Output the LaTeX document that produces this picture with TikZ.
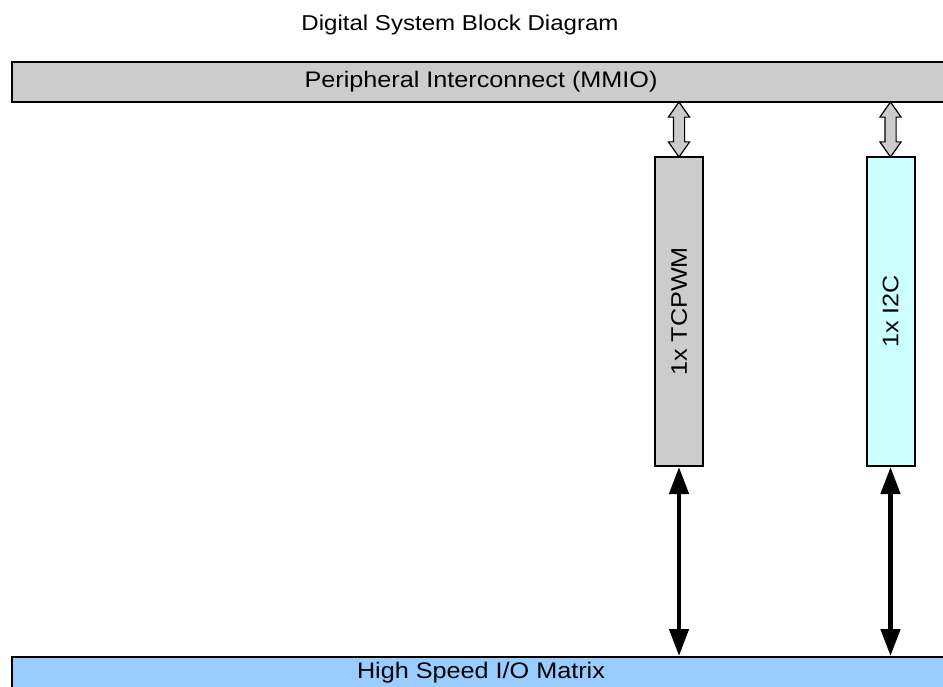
\documentclass[tikz,border=0pt]{standalone}
\usepackage{fontspec}
\setmainfont[FakeStretch=1.12]{Liberation Sans}
\usetikzlibrary{calc}
\usetikzlibrary{arrows.meta}
\usetikzlibrary{shapes.arrows}
\definecolor[named]{BusGray}{HTML}{CCCCCC}
\definecolor[named]{IOBlue}{HTML}{99CCFF}
\definecolor[named]{SerialCyan}{HTML}{CCFFFF}
\newcommand{\labelsize}{\fontsize{22.5}{27}\selectfont}
\tikzset{bar/.style={
  draw,
  line width=2pt,
  inner sep=0pt,
  minimum width=938pt,
  font=\labelsize
}}
% blocks are turned upright, so width runs along the text
\tikzset{block/.style={
  draw,
  line width=2pt,
  inner sep=0pt,
  rotate=90,
  minimum width=309pt,
  minimum height=48pt,
  font=\labelsize
}}
\tikzset{mmio/.style={
  double arrow,
  draw,
  fill=BusGray,
  line width=1.2pt,
  inner xsep=0pt,
  inner ysep=5pt,
  rotate=90,
  minimum height=55pt,
  double arrow head extend=5pt,
  double arrow tip angle=70
}}
\tikzset{iolink/.style={
  line width=4.5pt,
  {Triangle[length=27pt,width=19pt]}-{Triangle[length=27pt,width=19pt]}
}}

\begin{document}
\begin{tikzpicture}[x=1pt,y=-1pt]
      \useasboundingbox (0,0) rectangle (943,686);
      \clip (0,0) rectangle (943,686);
      \node[font=\fontsize{21.5}{26}\selectfont] (title) at (460,25) {Digital System Block Diagram};
      \node[bar, fill=BusGray, minimum height=40pt] (bus) at (481,82) {Peripheral Interconnect (MMIO)};
      \node[bar, fill=IOBlue, minimum height=31pt] (hsiom) at (481,672.5) {High Speed I/O Matrix};
        \node[block, fill=BusGray] (tcpwm) at (679,311.5) {1x TCPWM};
        \node[block, fill=SerialCyan] (i2c) at (890.5,311.5) {1x I2C};
      % bus links (east anchor of a turned block is its top)
      \node[mmio] (tcpwmbus) at ($(bus.south -| tcpwm.east)!0.5!(tcpwm.east)$) {};
      \node[mmio] (i2cbus) at ($(bus.south -| i2c.east)!0.5!(i2c.east)$) {};
      \draw[iolink] (tcpwm.west) -- (tcpwm.west |- hsiom.north);
      \draw[iolink] (i2c.west) -- (i2c.west |- hsiom.north);
    \end{tikzpicture}
\end{document}
